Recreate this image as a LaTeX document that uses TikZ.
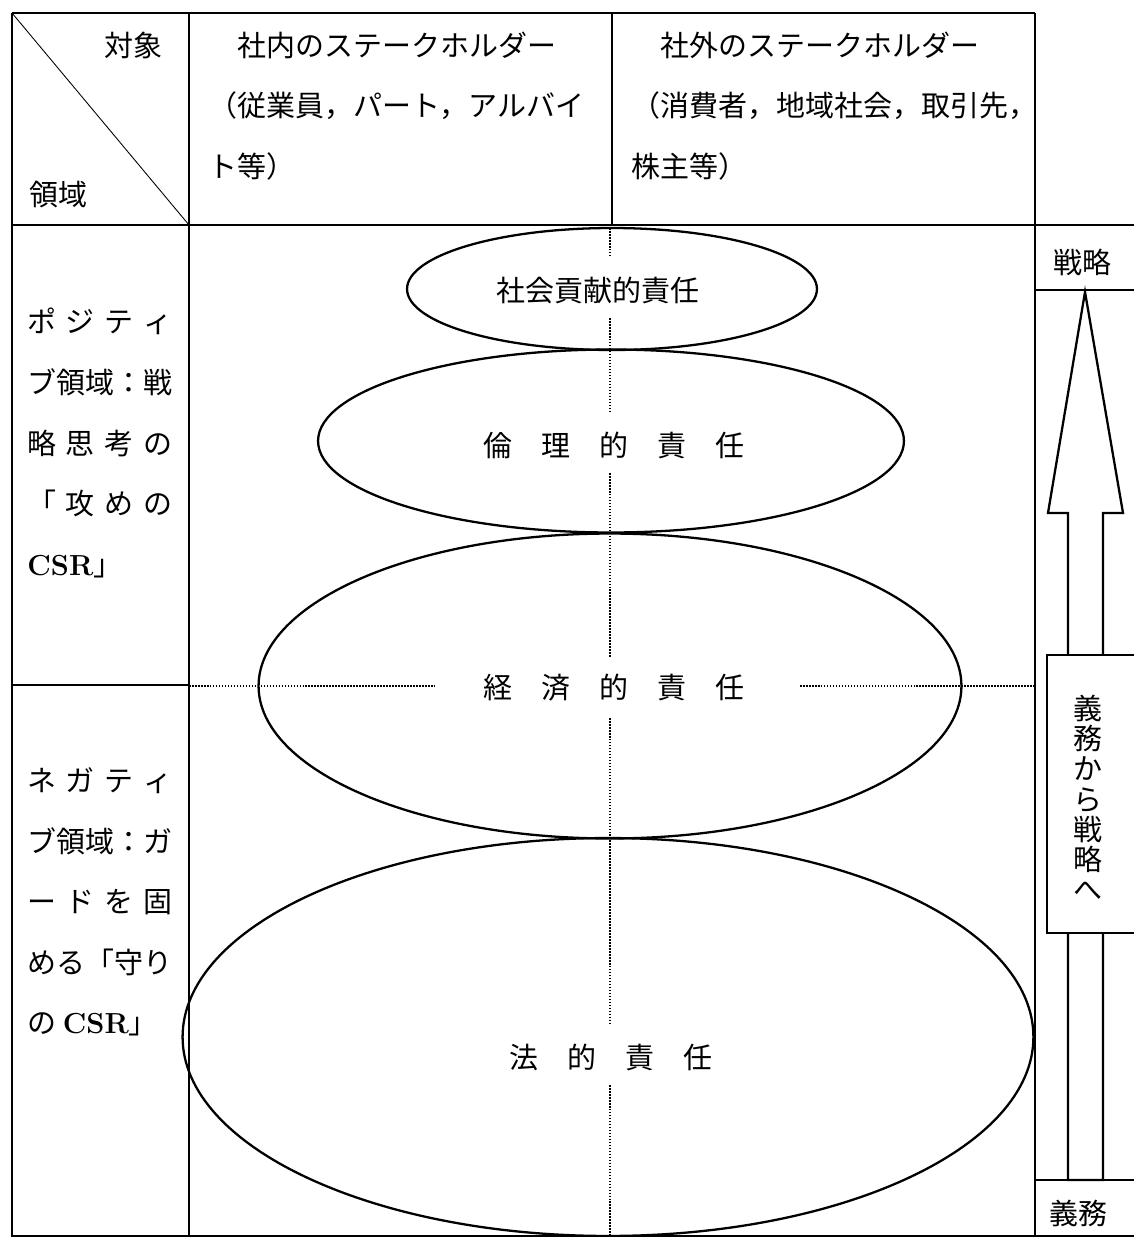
\documentclass[tikz,border=0pt]{standalone}
\usepackage{fontspec}
\usepackage{tikz}
\usetikzlibrary{shapes.geometric,calc}
\newfontfamily\jpfont{Noto Sans CJK JP}
\newcommand{\spreadline}[1]{\makebox[5em][l]{#1}}

\begin{document}
\begin{tikzpicture}[x=0.02cm,y=-0.02cm,
	every node/.style={font=\jpfont\fontsize{16.5}{34.5}\selectfont,inner sep=0pt},
	tabline/.style={line width=1.3pt},
	slashline/.style={line width=0.5pt},
	ring/.style={ellipse,draw,line width=1.3pt},
	divider/.style={line width=0.9pt,dash pattern=on 0.9pt off 0.8pt},
	blockarrow/.style={line width=1.3pt,fill=white,line join=miter}]
	\useasboundingbox (0,0) rectangle (1134,1237);
	% table frame
	\draw[tabline] (12,13) -- (1035,13);
	\draw[tabline] (12,13) -- (12,1236) -- (1134,1236);
	\draw[tabline] (189,13) -- (189,1236);
	\draw[tabline] (612,13) -- (612,225);
	\draw[tabline] (1035,13) -- (1035,1236);
	\draw[tabline] (12,225) -- (1134,225);
	\draw[tabline] (12,685) -- (189,685);
	\draw[slashline] (12,13) -- (189,225);
	% header
	\draw (133,45) node (target) {対象};
	\draw (58,195) node (domain) {領域};
	\draw (208,106) node [anchor=west,align=left] (inside) {　社内のステークホルダー\\（従業員，パート，アルバイ\\ト等）};
	\draw (631,106) node [anchor=west,align=left] (outside) {　社外のステークホルダー\\（消費者，地域社会，取引先，\\株主等）};
	% domains
	\draw (27,443) node [anchor=west,align=left] (positive) {\spreadline{ポ\hfill ジ\hfill テ\hfill ィ}\\ブ領域：戦\\\spreadline{略\hfill 思\hfill 考\hfill の}\\\spreadline{「\hfill 攻\hfill め\hfill の}\\{\rmfamily\bfseries CSR}」};
	\draw (27,902) node [anchor=west,align=left] (negative) {\spreadline{ネ\hfill ガ\hfill テ\hfill ィ}\\ブ領域：ガ\\\spreadline{ー\hfill ド\hfill を\hfill 固}\\める「守り\\の {\rmfamily\bfseries CSR}」};
	% responsibilities
	\draw (612,289) node [ring,minimum width=8.2cm,minimum height=2.44cm] (socring) {};
	\draw (611,441) node [ring,minimum width=11.72cm,minimum height=3.66cm] (ethring) {};
	\draw (610,686) node [ring,minimum width=14.06cm,minimum height=6.1cm] (ecoring) {};
	\draw (608,1037) node [ring,minimum width=17.02cm,minimum height=7.96cm] (legring) {};
	\draw (598,290) node (social) {社会貢献的責任};
	\draw (614,445) node (ethical) {倫　理　的　責　任};
	\draw (614,688) node (economic) {経　済　的　責　任};
	\draw (611,1057) node (legal) {法　的　責　任};
	% dotted dividers
	\draw[divider] (610,228) -- (610,255);
	\draw[divider] (610,318) -- (610,412);
	\draw[divider] (610,473) -- (610,657);
	\draw[divider] (610,718) -- (610,1023);
	\draw[divider] (610,1085) -- (610,1235);
	\draw[divider] (189,686) -- (435,686);
	\draw[divider] (800,686) -- (1035,686);
	% right column
	\draw[tabline] (1035,290) -- (1134,290);
	\draw (1082,262) node (strategy) {戦略};
	\coordinate (tip) at (1085,292);
	\coordinate (base) at (1085,1180);
	\draw[blockarrow] (tip) -- ($(tip)+(-37,221)$) -- ($(tip)+(-17,221)$) -- ($(base)+(-17,0)$)
		-- ($(base)+(18,0)$) -- ($(tip)+(18,221)$) -- ($(tip)+(38,221)$) -- cycle;
	\draw[tabline,fill=white] (1134,655) -- (1047,655) -- (1047,933) -- (1134,933);
	\draw (1088,798) node [align=center,font=\jpfont\fontsize{16.5}{17.2}\selectfont] (shift) {義\\務\\か\\ら\\戦\\略\\へ};
	\draw[tabline] (1134,1180) -- (1035,1180);
	\draw (1078,1213) node (duty) {義務};
\end{tikzpicture}
\end{document}
